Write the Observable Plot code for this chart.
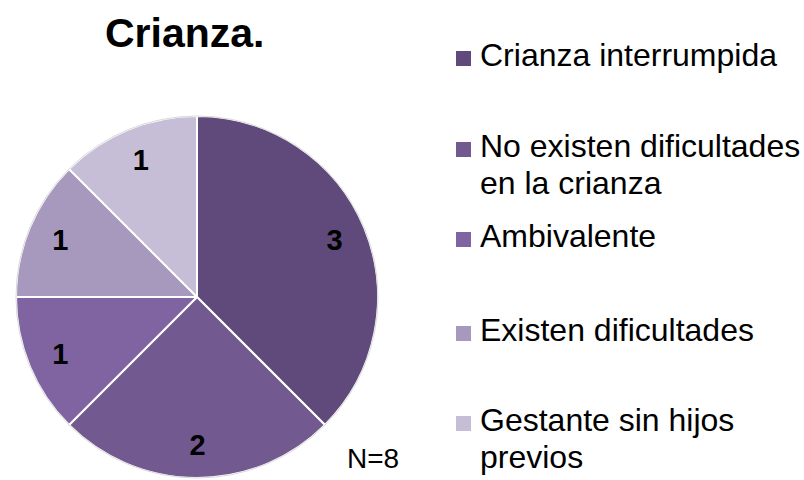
<!DOCTYPE html>
<html>
<head>
<meta charset="utf-8">
<script src="https://cdn.jsdelivr.net/npm/d3@7"></script>
<script src="https://cdn.jsdelivr.net/npm/@observablehq/plot@0.6"></script>
<style>
  html, body { margin: 0; padding: 0; background: #fff; }
  #wrap { position: relative; width: 804px; height: 480px; overflow: hidden; font-family: "Liberation Sans", Arial, sans-serif; color: #000; }
  #wrap svg { position: absolute; left: 0; top: 0; }
  .title { position: absolute; left: 105px; top: 13px; font-size: 41px; line-height: 40px; font-weight: bold; white-space: nowrap; }
  .leg { position: absolute; left: 480px; font-size: 32px; line-height: 37px; white-space: nowrap; }
  .sw { position: absolute; left: 456px; width: 15px; height: 15px; }
  .note { position: absolute; left: 347px; top: 445px; font-size: 28px; line-height: 28px; white-space: nowrap; }
</style>
</head>
<body>
<div id="wrap"></div>
<script>
const title = "Crianza.";
const categories = ["Crianza interrumpida", "No existen dificultades en la crianza", "Ambivalente", "Existen dificultades", "Gestante sin hijos previos"];
const legendLines = [["Crianza interrumpida"], ["No existen dificultades", "en la crianza"], ["Ambivalente"], ["Existen dificultades"], ["Gestante sin hijos", "previos"]];
const values = [3, 2, 1, 1, 1];
const colors = ["#5F4A7B", "#725A91", "#8064A2", "#A798BD", "#C6BDD6"];
const note = "N=8";

const data = categories.map((c, i) => ({category: c, value: values[i], color: colors[i]}));
const arcs = d3.pie().sort(null).value(d => d.value)(data);
const labelR = 0.82;
const labels = arcs.map(a => {
  const m = (a.startAngle + a.endAngle) / 2;
  return {value: a.data.value, ux: labelR * Math.sin(m), uy: labelR * Math.cos(m)};
});

function pieMark(index, scales) {
  const cx = scales.x(0), cy = scales.y(0);
  const r = scales.x(1) - scales.x(0);
  const g = d3.create("svg:g").attr("transform", `translate(${cx},${cy})`);
  const arcGen = d3.arc().innerRadius(0).outerRadius(r);
  g.selectAll("path").data(arcs).join("path")
    .attr("d", arcGen)
    .attr("fill", d => d.data.color)
    .attr("stroke", "#fff")
    .attr("stroke-width", 2)
    .attr("stroke-linejoin", "round");
  g.append("circle").attr("r", r).attr("fill", "none").attr("stroke", "#d9d9d9").attr("stroke-width", 1);
  return g.node();
}

const chart = Plot.plot({
  width: 804,
  height: 480,
  margin: 0,
  style: {background: "transparent", fontFamily: "Liberation Sans, Arial, sans-serif"},
  x: {domain: [-1, 1], range: [16, 378], axis: null},
  y: {domain: [-1, 1], range: [478, 116], axis: null},
  marks: [
    pieMark,
    Plot.text(labels, {x: "ux", y: "uy", text: d => String(d.value), fontSize: 29, fontWeight: "bold", fill: "#000"})
  ]
});

const wrap = document.getElementById("wrap");
wrap.appendChild(chart);

const t = document.createElement("div");
t.className = "title"; t.textContent = title;
wrap.appendChild(t);

const baselines = [67, 158, 248, 342, 432];
legendLines.forEach((lines, i) => {
  const sw = document.createElement("div");
  sw.className = "sw";
  sw.style.top = (baselines[i] - 16) + "px";
  sw.style.background = colors[i];
  wrap.appendChild(sw);
  const tx = document.createElement("div");
  tx.className = "leg";
  tx.style.top = (baselines[i] - 30) + "px";
  tx.innerHTML = lines.join("<br>");
  wrap.appendChild(tx);
});

const n = document.createElement("div");
n.className = "note"; n.textContent = note;
wrap.appendChild(n);
</script>
</body>
</html>
